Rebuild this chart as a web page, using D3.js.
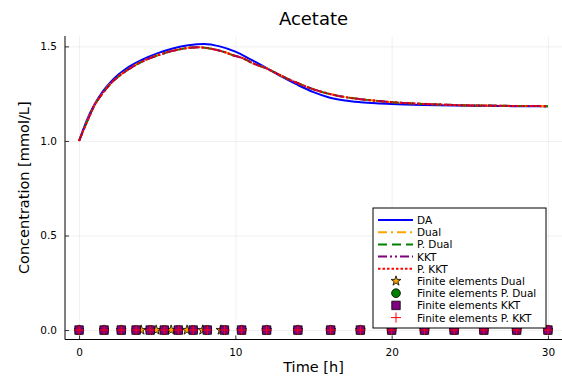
<!DOCTYPE html>
<html>
<head>
<meta charset="utf-8">
<script src="https://cdn.jsdelivr.net/npm/d3@7"></script>
<style>
  body { margin: 0; background: #fff; }
  text { font-family: "DejaVu Sans", sans-serif; fill: #000; }
  .grid line { stroke: #000; stroke-opacity: 0.1; stroke-width: 0.6; }
  .grid path { display: none; }
</style>
</head>
<body>
<div id="chart"></div>
<script>
// analytic solution (DA)
const timeDA = [0, 0.5, 1, 1.5, 2, 2.5, 3, 4, 5, 6, 7, 8, 9, 10, 11, 12, 13, 14, 15, 16, 17, 18, 19, 20, 22, 24, 26, 28, 30];
const valDA = [1.0, 1.11, 1.195, 1.26, 1.31, 1.35, 1.382, 1.428, 1.463, 1.489, 1.506, 1.513, 1.5, 1.472, 1.43, 1.385, 1.339, 1.296, 1.258, 1.23, 1.214, 1.205, 1.199, 1.195, 1.19, 1.187, 1.185, 1.184, 1.183];

// collocation solutions
const timeFE = [0, 0.5, 1, 1.6, 2.2, 2.7, 3.2, 3.65, 4.1, 4.55, 5, 5.45, 5.9, 6.35, 6.8, 7.3, 7.75, 8.2, 8.75, 9.3,
  9.85, 10.4, 11.2, 12, 13, 14, 15, 16.1, 17, 18, 19, 20, 21, 22, 23, 24, 25, 26, 28, 30];
const valDual = [1.0, 1.101, 1.191, 1.263, 1.319, 1.353, 1.382, 1.404, 1.423, 1.439, 1.453, 1.465, 1.476, 1.484, 1.491, 1.495, 1.496, 1.492, 1.483, 1.471,
  1.454, 1.441, 1.409, 1.384, 1.343, 1.306, 1.274, 1.248, 1.233, 1.222, 1.213, 1.206, 1.201, 1.197, 1.193, 1.19, 1.188, 1.187, 1.185, 1.184];
const valPDual = [1.0, 1.1, 1.19, 1.262, 1.318, 1.352, 1.381, 1.403, 1.422, 1.438, 1.452, 1.464, 1.475, 1.483, 1.49, 1.494, 1.495, 1.491, 1.482, 1.47,
  1.453, 1.44, 1.408, 1.383, 1.342, 1.305, 1.273, 1.247, 1.232, 1.221, 1.212, 1.205, 1.2, 1.196, 1.193, 1.19, 1.188, 1.187, 1.185, 1.184];
const valKKT = [1.0, 1.1, 1.19, 1.262, 1.318, 1.352, 1.381, 1.403, 1.422, 1.438, 1.452, 1.464, 1.475, 1.483, 1.49, 1.494, 1.495, 1.491, 1.482, 1.47,
  1.453, 1.44, 1.408, 1.383, 1.342, 1.305, 1.273, 1.247, 1.232, 1.221, 1.212, 1.205, 1.2, 1.196, 1.193, 1.19, 1.188, 1.187, 1.185, 1.184];
const valPKKT = [1.0, 1.1, 1.19, 1.262, 1.318, 1.352, 1.381, 1.403, 1.422, 1.438, 1.452, 1.464, 1.475, 1.483, 1.49, 1.494, 1.495, 1.491, 1.482, 1.47,
  1.453, 1.44, 1.408, 1.383, 1.342, 1.305, 1.273, 1.247, 1.232, 1.221, 1.212, 1.205, 1.2, 1.196, 1.193, 1.19, 1.188, 1.187, 1.185, 1.184];

// finite element boundaries (plotted at zero)
const elemDual = [0, 1.6, 2.7, 3.97, 4.93, 5.89, 6.91, 7.91, 9.08, 10.4, 12, 14, 16.1, 18, 20, 22.1, 24, 25.9, 28, 30];
const elemPDual = [0, 1.6, 2.7, 3.65, 4.55, 5.45, 6.35, 7.3, 8.2, 9.3, 10.4, 12, 14, 16.1, 18, 20, 22.1, 24, 25.9, 28, 30];
const elemKKT = [0, 1.6, 2.7, 3.65, 4.55, 5.45, 6.35, 7.3, 8.2, 9.3, 10.4, 12, 14, 16.1, 18, 20, 22.1, 24, 25.9, 28, 30];
const elemPKKT = [0, 1.6, 2.7, 3.65, 4.55, 5.45, 6.35, 7.3, 8.2, 9.3, 10.4, 12, 14, 16.1, 18, 20, 22.1, 24, 25.9, 28, 30];

const xTicks = [0, 10, 20, 30];
const yTicks = [0, 0.5, 1.0, 1.5];

const width = 562, height = 380;
const margin = { top: 36, right: 0, bottom: 40.5, left: 65 };

const svg = d3.select('#chart').append('svg')
  .attr('width', width)
  .attr('height', height);

const x = d3.scaleLinear().domain([-0.9, 30.9]).range([margin.left, width - margin.right]);
const y = d3.scaleLinear().domain([-0.05, 1.555]).range([height - margin.bottom, margin.top]);

// grid lines
svg.append('g').attr('class', 'grid')
  .attr('transform', 'translate(0,' + y.range()[0] + ')')
  .call(d3.axisBottom(x).tickValues(xTicks).tickSize(-(y.range()[0] - y.range()[1])).tickFormat(''));
svg.append('g').attr('class', 'grid')
  .attr('transform', 'translate(' + x.range()[0] + ',0)')
  .call(d3.axisLeft(y).tickValues(yTicks).tickSize(-(x.range()[1] - x.range()[0])).tickFormat(''));

// axes with inward ticks
const xAxis = svg.append('g')
  .attr('transform', 'translate(0,' + y.range()[0] + ')')
  .call(d3.axisBottom(x).tickValues(xTicks).tickSize(-4).tickPadding(9).tickFormat(d3.format('d')));
const yAxis = svg.append('g')
  .attr('transform', 'translate(' + x.range()[0] + ',0)')
  .call(d3.axisLeft(y).tickValues(yTicks).tickSize(-4).tickPadding(8).tickFormat(d3.format('.1f')));
[xAxis, yAxis].forEach(a => {
  a.select('.domain').attr('stroke', '#000').attr('stroke-width', 1).attr('d', null);
  a.selectAll('text').style('font-size', '10.5px').style('font-family', '"DejaVu Sans", sans-serif');
  a.selectAll('.tick line').attr('stroke', '#000').attr('stroke-width', 0.8);
});
xAxis.select('.domain').attr('d', 'M' + x.range()[0] + ',0H' + x.range()[1]);
yAxis.select('.domain').attr('d', 'M0,' + y.range()[0] + 'V' + y.range()[1]);

// titles
svg.append('text').attr('x', (x.range()[0] + x.range()[1]) / 2).attr('y', 25)
  .attr('text-anchor', 'middle').style('font-size', '18px').text('Acetate');
svg.append('text').attr('x', (x.range()[0] + x.range()[1]) / 2).attr('y', 372)
  .attr('text-anchor', 'middle').style('font-size', '14.5px').text('Time [h]');
svg.append('text')
  .attr('transform', 'translate(29,' + (y.range()[0] + y.range()[1]) / 2 + ') rotate(-90)')
  .attr('text-anchor', 'middle').style('font-size', '14.5px').text('Concentration [mmol/L]');

// series
const series = [
  { name: 'DA', t: timeDA, v: valDA, color: '#0000ff', dash: null },
  { name: 'Dual', t: timeFE, v: valDual, color: '#ffa500', dash: '9,4,2,4' },
  { name: 'P. Dual', t: timeFE, v: valPDual, color: '#008000', dash: '9,5' },
  { name: 'KKT', t: timeFE, v: valKKT, color: '#800080', dash: '9,3,2,3,2,3' },
  { name: 'P. KKT', t: timeFE, v: valPKKT, color: '#ff0000', dash: '2.5,2' }
];

const line = d3.line()
  .x(d => x(d[0]))
  .y(d => y(d[1]))
  .curve(d3.curveMonotoneX);

series.forEach(s => {
  svg.append('path')
    .datum(s.t.map((t, i) => [t, s.v[i]]))
    .attr('fill', 'none')
    .attr('stroke', s.color)
    .attr('stroke-width', 2)
    .attr('stroke-dasharray', s.dash)
    .attr('d', line);
});

// markers
const plusPath = 'M-5,0H5M0,-5V5';
const markers = [
  { name: 'Finite elements Dual', t: elemDual, fill: '#ffa500', sym: d3.symbol(d3.symbolStar, 30)() },
  { name: 'Finite elements P. Dual', t: elemPDual, fill: '#008000', sym: d3.symbol(d3.symbolCircle, 60)() },
  { name: 'Finite elements KKT', t: elemKKT, fill: '#800080', sym: d3.symbol(d3.symbolSquare, 72)() },
  { name: 'Finite elements P. KKT', t: elemPKKT, fill: 'none', stroke: '#ff0000', sym: plusPath }
];

function drawMarker(g, m, cx, cy) {
  g.append('path')
    .attr('transform', 'translate(' + cx + ',' + cy + ')')
    .attr('d', m.sym)
    .attr('fill', m.fill)
    .attr('stroke', m.stroke || '#000')
    .attr('stroke-width', m.stroke ? 1 : 0.8);
}

markers.forEach(m => {
  const g = svg.append('g');
  m.t.forEach(t => drawMarker(g, m, x(t), y(0)));
});

// legend
const lg = svg.append('g').attr('transform', 'translate(373,208)');
lg.append('rect').attr('width', 173).attr('height', 120)
  .attr('fill', '#fff').attr('stroke', '#000').attr('stroke-width', 1);
const rowH = 12.2;
series.forEach((s, i) => {
  const yy = 12 + i * rowH;
  lg.append('line').attr('x1', 5).attr('x2', 40).attr('y1', yy).attr('y2', yy)
    .attr('stroke', s.color).attr('stroke-width', 2).attr('stroke-dasharray', s.dash);
  lg.append('text').attr('x', 44).attr('y', yy + 4).style('font-size', '10.5px').text(s.name);
});
markers.forEach((m, i) => {
  const yy = 12 + (i + 5) * rowH;
  drawMarker(lg, m, 23, yy);
  lg.append('text').attr('x', 44).attr('y', yy + 4).style('font-size', '10.5px').text(m.name);
});
</script>
</body>
</html>
